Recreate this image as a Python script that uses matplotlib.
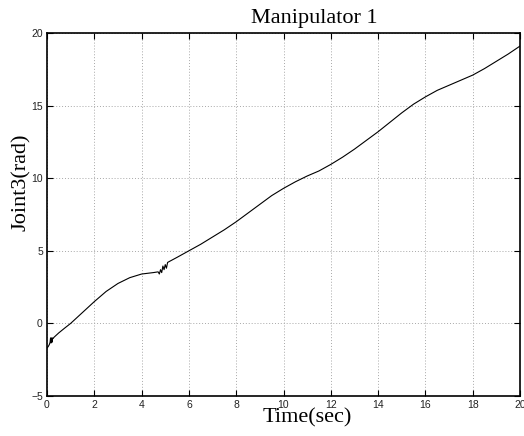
import matplotlib
matplotlib.use("Agg")
import matplotlib.pyplot as plt

# Joint 3 trajectory of manipulator 1 (time in seconds, angle in rad)
time_sec = [0.0, 0.05, 0.1, 0.13, 0.15, 0.17, 0.19, 0.21, 0.23, 0.25, 0.3,
            0.5, 0.75, 1.0, 1.5, 2.0, 2.5, 3.0, 3.5, 4.0, 4.5, 4.7,
            4.75, 4.8, 4.85, 4.9, 4.95, 5.0, 5.05, 5.1,
            5.5, 6.0, 6.5, 7.0, 7.5, 8.0, 8.5, 9.0, 9.5, 10.0, 10.5, 11.0,
            11.5, 12.0, 12.5, 13.0, 13.5, 14.0, 14.5, 15.0, 15.5, 16.0,
            16.5, 17.0, 17.5, 18.0, 18.5, 19.0, 19.5, 20.0]
joint3_rad = [-1.7, -1.6, -1.45, -1.3, -1.0, -1.35, -1.0, -1.3, -1.0, -1.05, -0.95,
              -0.65, -0.32, 0.0, 0.75, 1.5, 2.2, 2.75, 3.15, 3.4, 3.5, 3.55,
              3.4, 3.7, 3.5, 3.95, 3.7, 4.05, 3.8, 4.2,
              4.55, 5.0, 5.45, 5.95, 6.45, 7.0, 7.6, 8.2, 8.8, 9.3, 9.75, 10.15,
              10.5, 10.95, 11.45, 12.0, 12.6, 13.2, 13.85, 14.5, 15.1, 15.6,
              16.05, 16.4, 16.75, 17.1, 17.55, 18.05, 18.55, 19.1]

x_ticks = [0, 2, 4, 6, 8, 10, 12, 14, 16, 18, 20]
y_ticks = [-5, 0, 5, 10, 15, 20]

fig = plt.figure(figsize=(5.24, 4.36), dpi=100)
ax = fig.add_axes([47 / 524, 40 / 436, 473 / 524, 363 / 436])

ax.plot(time_sec, joint3_rad, color="black", linewidth=0.8)

ax.set_xlim(0, 20)
ax.set_ylim(-5, 20)
ax.set_xticks(x_ticks)
ax.set_yticks(y_ticks)
ax.grid(True, linestyle=(0, (1, 2)), color="#a8a8a8", linewidth=0.7)
ax.tick_params(direction="in", top=True, right=True, length=4, width=0.8,
               labelsize=7.5, pad=3, labelcolor="#222222")
for lbl in ax.get_xticklabels() + ax.get_yticklabels():
    lbl.set_fontfamily("Liberation Sans")
for side in ax.spines.values():
    side.set_linewidth(1.2)

serif = "Liberation Serif"
fig.text(314 / 524, 1 - 18 / 436, "Manipulator 1", family=serif, fontsize=16,
         ha="center", va="center")
fig.text(307 / 524, 1 - 418 / 436, "Time(sec)", family=serif, fontsize=16,
         ha="center", va="center")
fig.text(21 / 524, 1 - 182 / 436, "Joint3(rad)", family=serif, fontsize=16,
         ha="center", va="center", rotation=90)

fig.savefig("out.png", dpi=100)
